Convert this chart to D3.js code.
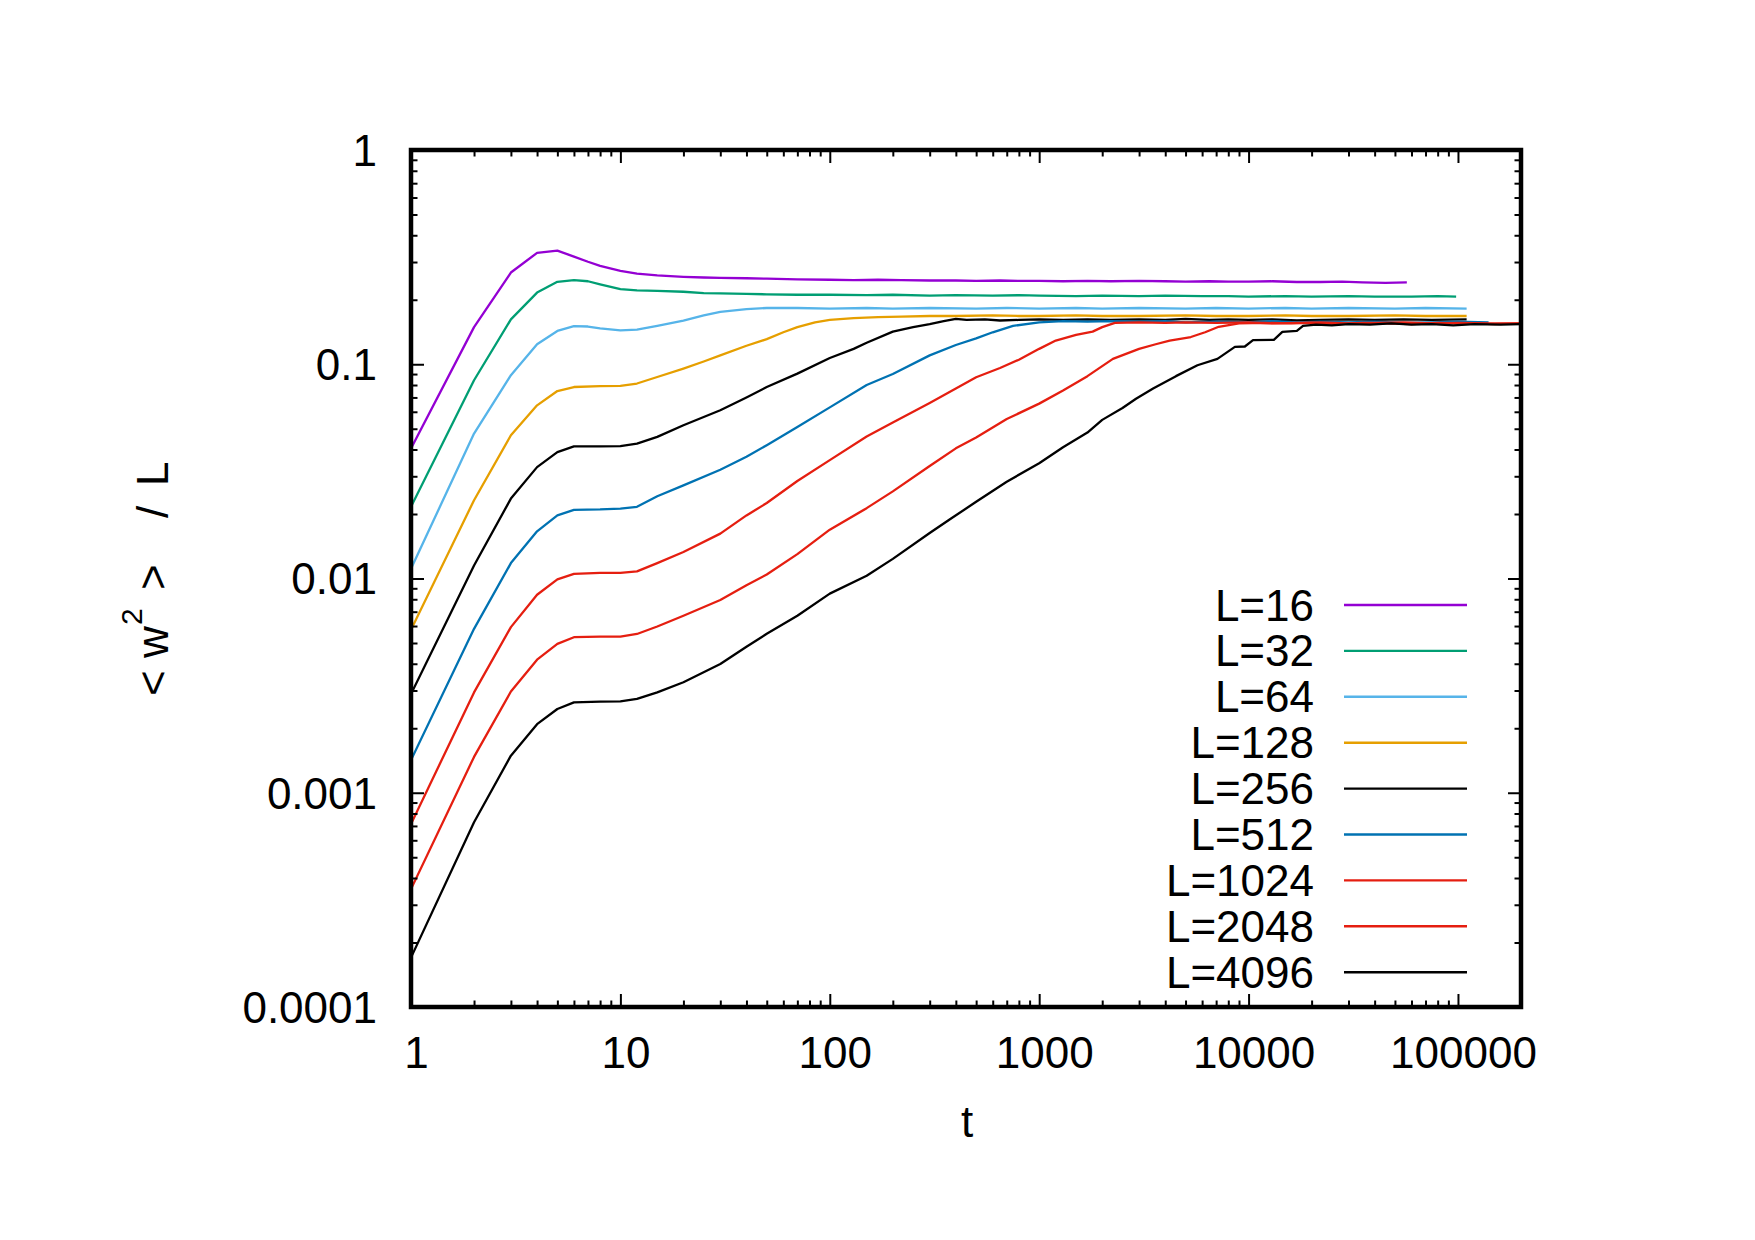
<!DOCTYPE html>
<html>
<head>
<meta charset="utf-8">
<script src="https://cdnjs.cloudflare.com/ajax/libs/d3/7.8.5/d3.min.js"></script>
<style>
  body { margin: 0; background: #fff; }
  text { font-family: "Liberation Sans", Arial, Helvetica, sans-serif; }
</style>
</head>
<body>
<div id="graph"></div>
<script>
// data: [t, <w^2>/L]
var L16 = [[1,0.0404],[2,0.149],[3,0.268],[4,0.331],[5,0.339],[6,0.318],[7,0.301],[8,0.288],[10,0.273],[12,0.265],[15,0.26],[20,0.256],[25,0.254],[30,0.253],[40,0.252],[50,0.251],[70,0.249],[100,0.248],[130,0.247],[170,0.248],[220,0.247],[300,0.246],[400,0.246],[500,0.245],[650,0.246],[800,0.245],[1000,0.245],[1300,0.244],[1700,0.245],[2200,0.244],[3000,0.245],[4000,0.244],[5000,0.243],[6500,0.244],[8000,0.243],[10000,0.243],[13000,0.244],[17000,0.242],[22000,0.242],[28000,0.243],[35000,0.241],[45000,0.240],[57000,0.241]];
var L32 = [[1,0.0216],[2,0.0842],[3,0.162],[4,0.216],[5,0.2425],[6,0.247],[7,0.244],[8,0.236],[10,0.224],[12,0.221],[15,0.22],[20,0.218],[25,0.215],[30,0.214],[40,0.213],[50,0.212],[70,0.211],[100,0.211],[150,0.21],[200,0.211],[300,0.209],[400,0.21],[600,0.209],[800,0.21],[1000,0.209],[1500,0.208],[2000,0.209],[3000,0.208],[4000,0.209],[6000,0.208],[8000,0.208],[10000,0.207],[15000,0.208],[20000,0.207],[30000,0.208],[40000,0.207],[60000,0.207],[80000,0.208],[98000,0.207]];
var L64 = [[1,0.0111],[2,0.0475],[3,0.0889],[4,0.124],[5,0.143],[6,0.1505],[7,0.15],[8,0.147],[10,0.144],[12,0.145],[15,0.151],[20,0.16],[25,0.169],[30,0.1756],[40,0.181],[50,0.183],[70,0.183],[100,0.182],[150,0.183],[200,0.182],[300,0.183],[500,0.182],[700,0.183],[1000,0.182],[1500,0.183],[2000,0.182],[3000,0.183],[5000,0.182],[7000,0.183],[10000,0.182],[15000,0.183],[20000,0.182],[30000,0.183],[50000,0.182],[70000,0.183],[110000,0.182]];
var L128 = [[1,0.00576],[2,0.0232],[3,0.0466],[4,0.0643],[5,0.075],[6,0.0783],[8,0.079],[10,0.0792],[12,0.0813],[15,0.0872],[20,0.0955],[25,0.103],[30,0.110],[40,0.122],[50,0.131],[60,0.141],[70,0.149],[85,0.157],[100,0.161],[130,0.164],[170,0.166],[220,0.167],[300,0.168],[400,0.168],[600,0.169],[800,0.168],[1000,0.168],[1500,0.169],[2000,0.168],[3000,0.168],[5000,0.169],[7000,0.168],[10000,0.168],[15000,0.169],[20000,0.168],[30000,0.168],[50000,0.169],[70000,0.168],[110000,0.168]];
var L256 = [[1,0.00289],[2,0.0115],[3,0.0236],[4,0.0331],[5,0.0389],[6,0.0414],[8,0.0414],[10,0.0415],[12,0.0426],[15,0.0458],[20,0.0519],[30,0.061],[40,0.070],[50,0.0783],[70,0.0904],[100,0.107],[130,0.118],[150,0.126],[200,0.142],[250,0.149],[300,0.154],[350,0.159],[400,0.163],[450,0.161],[550,0.162],[650,0.160],[800,0.161],[1000,0.162],[1300,0.161],[1700,0.162],[2200,0.161],[3000,0.162],[4000,0.161],[5000,0.163],[6500,0.161],[8000,0.162],[10000,0.161],[13000,0.162],[17000,0.160],[22000,0.161],[30000,0.162],[40000,0.161],[55000,0.162],[75000,0.161],[110000,0.162]];
var L512 = [[1,0.00142],[2,0.00582],[3,0.0118],[4,0.0166],[5,0.0197],[6,0.0209],[8,0.021],[10,0.0212],[12,0.0216],[15,0.0242],[20,0.0272],[30,0.0322],[40,0.037],[50,0.0419],[70,0.051],[100,0.0629],[150,0.08],[200,0.09],[300,0.11],[400,0.123],[500,0.132],[600,0.141],[750,0.151],[1000,0.157],[1300,0.159],[1700,0.158],[2200,0.159],[3000,0.158],[4000,0.159],[5000,0.157],[7000,0.158],[10000,0.157],[13000,0.159],[17000,0.157],[22000,0.158],[30000,0.157],[40000,0.158],[55000,0.156],[75000,0.157],[100000,0.158],[140000,0.157]];
var L1024 = [[1,0.000714],[2,0.00294],[3,0.00593],[4,0.0084],[5,0.0099],[6,0.0105],[8,0.01062],[10,0.01063],[12,0.0108],[15,0.0118],[20,0.0133],[30,0.0162],[40,0.0197],[50,0.0225],[70,0.0285],[100,0.0357],[150,0.046],[200,0.0535],[300,0.066],[400,0.077],[500,0.087],[650,0.096],[800,0.105],[1000,0.118],[1200,0.129],[1500,0.137],[1800,0.142],[2000,0.149],[2300,0.156],[3000,0.157],[4000,0.156],[5000,0.157],[7000,0.156],[10000,0.157],[13000,0.155],[17000,0.156],[22000,0.157],[30000,0.155],[40000,0.156],[55000,0.157],[75000,0.155],[100000,0.156],[140000,0.155],[200000,0.155]];
var L2048 = [[1,0.000355],[2,0.00147],[3,0.00297],[4,0.00418],[5,0.00495],[6,0.00532],[8,0.00535],[10,0.00536],[12,0.00551],[15,0.00597],[20,0.0067],[30,0.00794],[40,0.0093],[50,0.01044],[70,0.013],[100,0.0169],[150,0.0213],[200,0.0255],[300,0.0335],[400,0.0405],[500,0.0455],[700,0.0555],[1000,0.0655],[1300,0.0755],[1700,0.088],[2250,0.106],[3000,0.118],[3600,0.124],[4200,0.129],[5300,0.134],[6200,0.141],[7200,0.1496],[9000,0.155],[12000,0.156],[16000,0.155],[20000,0.156],[27000,0.154],[35000,0.156],[45000,0.155],[60000,0.154],[80000,0.156],[110000,0.155],[150000,0.154],[200000,0.155]];
var L4096 = [[1,0.00017],[2,0.000728],[3,0.00149],[4,0.00209],[5,0.00246],[6,0.00264],[8,0.00266],[10,0.00267],[12,0.00274],[15,0.00294],[20,0.00328],[30,0.00399],[40,0.0048],[50,0.00552],[70,0.0067],[100,0.0085],[150,0.0103],[200,0.01235],[300,0.0163],[378,0.019],[500,0.0228],[700,0.0283],[1000,0.0345],[1300,0.041],[1700,0.048],[2000,0.055],[2500,0.0625],[2900,0.069],[3500,0.077],[4500,0.088],[5700,0.0989],[7100,0.106],[8600,0.1205],[9600,0.121],[10500,0.1295],[13200,0.130],[14500,0.1416],[17000,0.143],[18200,0.151],[21000,0.153],[25000,0.152],[30000,0.154],[38000,0.153],[48000,0.155],[60000,0.153],[75000,0.154],[95000,0.152],[120000,0.154],[160000,0.153],[200000,0.154]];

var seriesNames = ["L=16","L=32","L=64","L=128","L=256","L=512","L=1024","L=2048","L=4096"];
var seriesData = [L16, L32, L64, L128, L256, L512, L1024, L2048, L4096];
var seriesColors = ["#9400d3","#009e73","#56b4e9","#e69f00","#000000","#0072b2","#e51e10","#e51e10","#000000"];

var xTicks = [1, 10, 100, 1000, 10000, 100000];
var xTickLabels = ["1", "10", "100", "1000", "10000", "100000"];
var yTicks = [0.0001, 0.001, 0.01, 0.1, 1];
var yTickLabels = ["0.0001", "0.001", "0.01", "0.1", "1"];

// plot frame in page pixels
var W = 1755, H = 1240;
var plotL = 411, plotR = 1521, plotT = 150, plotB = 1007;

var svg = d3.select("#graph")
  .append("svg")
    .attr("width", W)
    .attr("height", H)
    .style("display", "block");

svg.append("rect").attr("width", W).attr("height", H).attr("fill", "white");

var x = d3.scaleLog().domain([1, 200000]).range([plotL, plotR]);
var y = d3.scaleLog().domain([0.0001, 1]).range([plotB, plotT]);

// minor tick values
var xMinor = [], yMinor = [];
xTicks.forEach(function(d) { for (var k = 2; k <= 9; k++) if (d * k <= 200000) xMinor.push(d * k); });
yTicks.slice(0, 4).forEach(function(d) { for (var k = 2; k <= 9; k++) yMinor.push(d * k); });

svg.append("clipPath").attr("id", "clip")
  .append("rect")
    .attr("x", plotL).attr("y", plotT)
    .attr("width", plotR - plotL).attr("height", plotB - plotT);

// curves
var line = d3.line()
  .x(function(d) { return x(d[0]); })
  .y(function(d) { return y(d[1]); });

svg.append("g")
    .attr("clip-path", "url(#clip)")
  .selectAll("path")
  .data(seriesData)
  .enter().append("path")
    .attr("d", line)
    .attr("fill", "none")
    .attr("stroke", function(d, i) { return seriesColors[i]; })
    .attr("stroke-width", 2.3)
    .attr("stroke-linejoin", "round");

// axes, ticks pointing inward
function styleAxis(g) {
  g.select(".domain").remove();
  g.selectAll("line").attr("stroke-width", 2);
  g.selectAll("text")
    .attr("font-family", "'Liberation Sans', Arial, sans-serif")
    .attr("font-size", 44)
    .attr("fill", "black");
}

svg.append("g")
    .attr("transform", "translate(0," + plotB + ")")
    .call(d3.axisBottom(x).tickValues(xTicks).tickSize(-13).tickSizeOuter(0).tickPadding(30)
      .tickFormat(function(d, i) { return xTickLabels[i]; }))
    .call(styleAxis)
    .selectAll("text").attr("dx", 5);
svg.append("g")
    .attr("transform", "translate(0," + plotB + ")")
    .call(d3.axisBottom(x).tickValues(xMinor).tickSize(-6.5).tickSizeOuter(0).tickFormat(""))
    .call(styleAxis);
svg.append("g")
    .attr("transform", "translate(0," + plotT + ")")
    .call(d3.axisTop(x).tickValues(xTicks).tickSize(-13).tickSizeOuter(0).tickFormat(""))
    .call(styleAxis);
svg.append("g")
    .attr("transform", "translate(0," + plotT + ")")
    .call(d3.axisTop(x).tickValues(xMinor).tickSize(-6.5).tickSizeOuter(0).tickFormat(""))
    .call(styleAxis);

svg.append("g")
    .attr("transform", "translate(" + plotL + ",0)")
    .call(d3.axisLeft(y).tickValues(yTicks).tickSize(-13).tickSizeOuter(0).tickPadding(34)
      .tickFormat(function(d, i) { return yTickLabels[i]; }))
    .call(styleAxis)
    .selectAll("text").attr("dy", "0.35em");
svg.append("g")
    .attr("transform", "translate(" + plotL + ",0)")
    .call(d3.axisLeft(y).tickValues(yMinor).tickSize(-6.5).tickSizeOuter(0).tickFormat(""))
    .call(styleAxis);
svg.append("g")
    .attr("transform", "translate(" + plotR + ",0)")
    .call(d3.axisRight(y).tickValues(yTicks).tickSize(-13).tickSizeOuter(0).tickFormat(""))
    .call(styleAxis);
svg.append("g")
    .attr("transform", "translate(" + plotR + ",0)")
    .call(d3.axisRight(y).tickValues(yMinor).tickSize(-6.5).tickSizeOuter(0).tickFormat(""))
    .call(styleAxis);

// border
svg.append("rect")
  .attr("x", plotL).attr("y", plotT)
  .attr("width", plotR - plotL).attr("height", plotB - plotT)
  .attr("fill", "none")
  .attr("stroke", "black")
  .attr("stroke-width", 4.5);

// axis titles
svg.append("text")
  .attr("x", 967).attr("y", 1137)
  .attr("text-anchor", "middle")
  .attr("font-size", 44)
  .text("t");

// rotated y title, pieces placed along the rotated baseline
var yt = svg.append("text")
  .attr("transform", "translate(168,696) rotate(-90)")
  .attr("font-size", 44);
yt.append("tspan").attr("x", 0).attr("y", 0).text("< w");
yt.append("tspan").attr("x", 71).attr("y", -26).attr("font-size", 30).text("2");
yt.append("tspan").attr("x", 106).attr("y", 0).text(">");
yt.append("tspan").attr("x", 178).attr("y", 0).text("/");
yt.append("tspan").attr("x", 210).attr("y", 0).text("L");

// legend
var legend = svg.append("g")
  .selectAll("g")
  .data(seriesNames)
  .enter().append("g")
    .attr("transform", function(d, i) { return "translate(0," + (605 + i * 45.9) + ")"; });

legend.append("text")
  .attr("x", 1314).attr("y", 15.5)
  .attr("text-anchor", "end")
  .attr("font-size", 44)
  .text(function(d) { return d; });

legend.append("line")
  .attr("x1", 1344).attr("x2", 1467)
  .attr("y1", 0).attr("y2", 0)
  .attr("stroke", function(d, i) { return seriesColors[i]; })
  .attr("stroke-width", 2.4);
</script>
</body>
</html>
